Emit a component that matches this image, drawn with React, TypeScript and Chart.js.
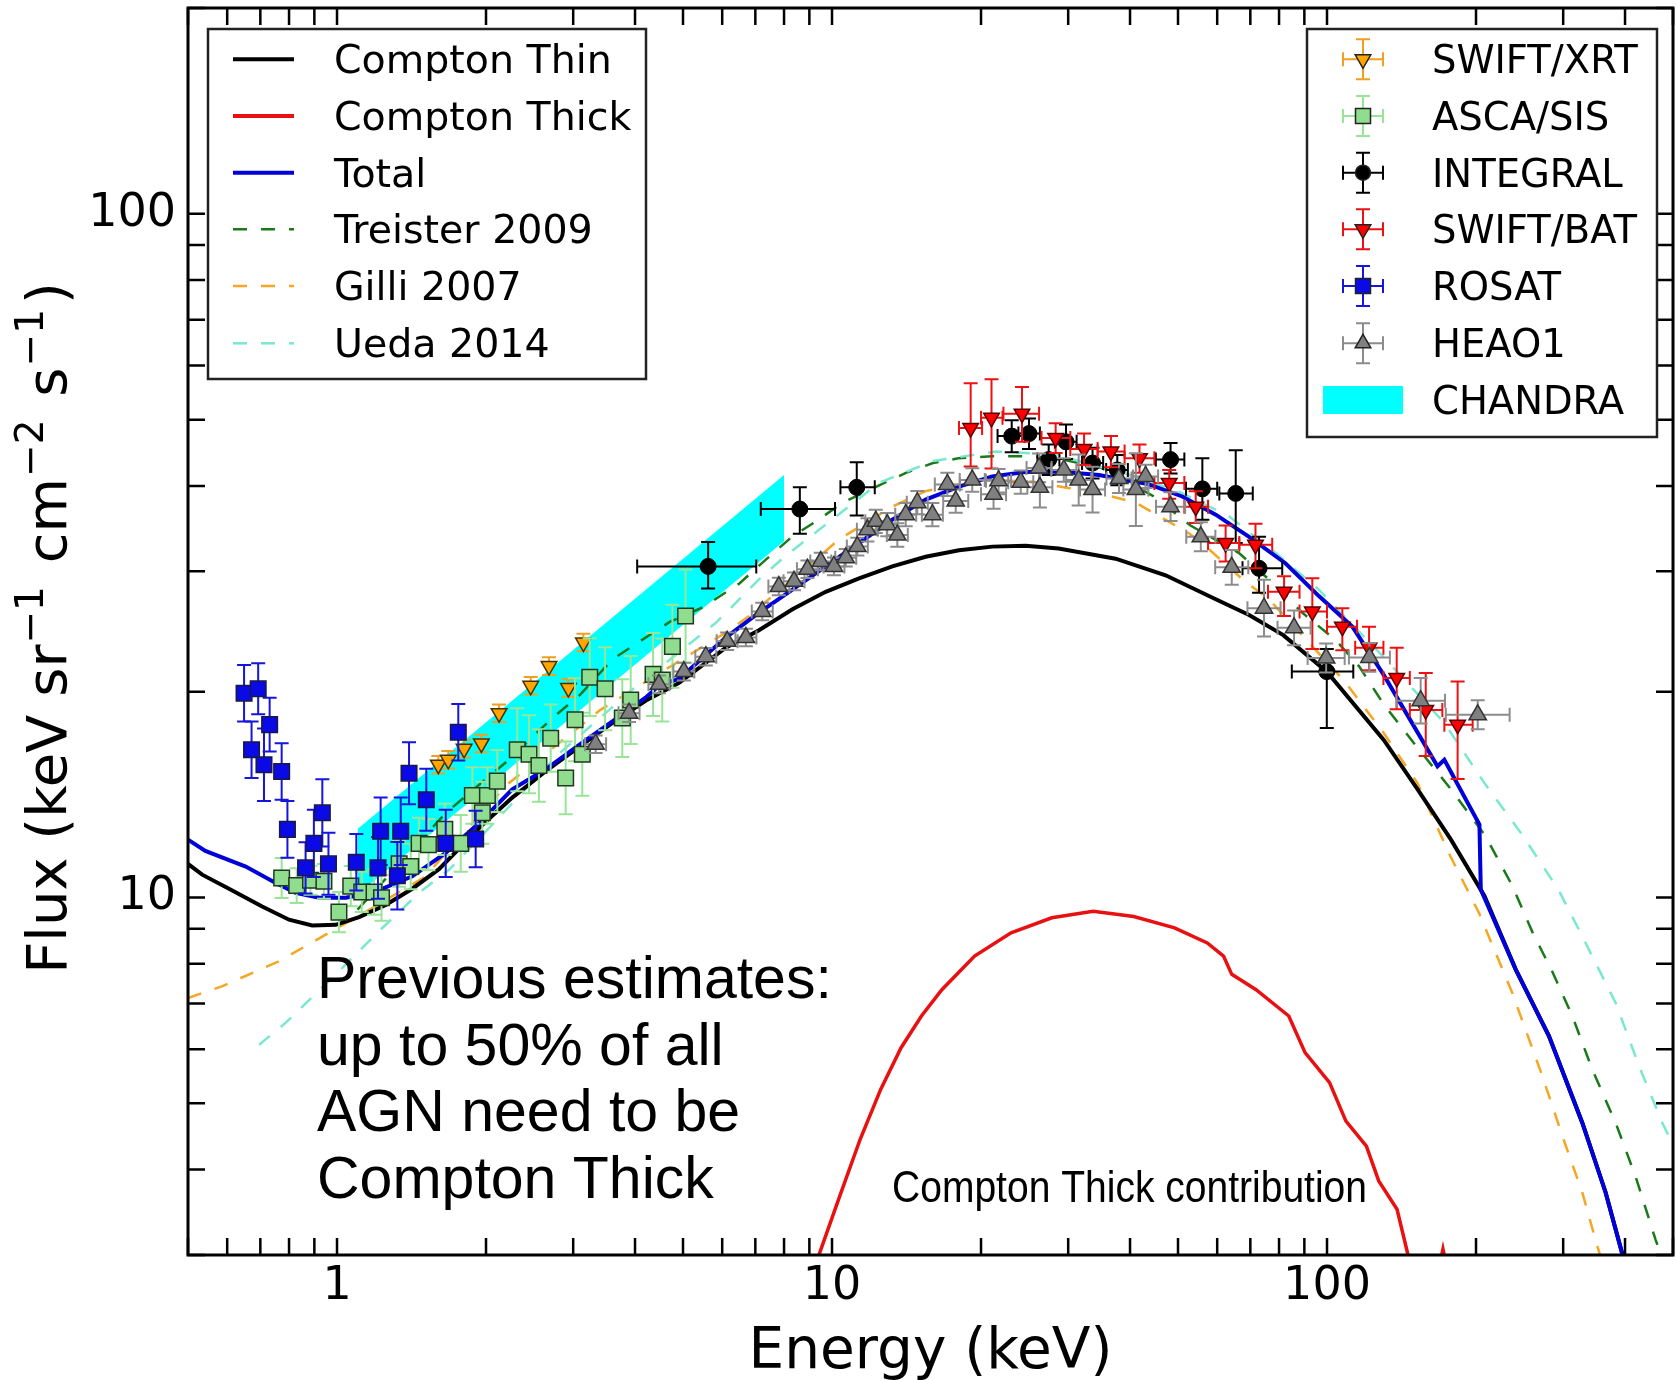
import React, { useEffect, useRef } from 'react';
import { Chart, registerables } from 'chart.js';
Chart.register(...registerables);

const W = 1676;
const H = 1380;

// ---------------- Model curves (Energy keV, Flux) ----------------
const thinE = [0.5, 0.534, 0.605, 0.706, 0.80, 0.891, 0.994, 1.108, 1.254, 1.419, 1.607, 1.95, 2.26, 2.64, 3.08, 3.60, 4.20, 4.91, 5.22, 6.10, 7.12, 8.32, 9.71, 11.34, 13.24, 15.46, 18.05, 21.08, 24.6, 28.7, 37.4, 47.2, 59.6, 69.6, 81.6, 99.9, 130.2, 152.3, 178.0, 208.0, 240.5, 280.8, 328.0, 365.6, 398.0, 430.0];
const thinF = [11.2, 10.8, 10.3, 9.7, 9.28, 9.1, 9.12, 9.36, 9.75, 10.3, 11.0, 12.7, 14.0, 15.3, 16.6, 18.0, 19.4, 20.6, 21.3, 23.2, 24.6, 26.4, 28.0, 29.3, 30.5, 31.5, 32.2, 32.6, 32.7, 32.4, 31.3, 29.6, 27.3, 25.9, 24.2, 21.4, 17.0, 14.4, 12.15, 10.05, 7.85, 6.27, 4.68, 3.70, 2.95, 2.5];

const thickE = [9.0, 9.34, 10.37, 11.40, 12.54, 13.79, 15.16, 16.67, 19.41, 23.0, 27.8, 33.7, 40.7, 49.2, 57.3, 61.8, 64.2, 71.9, 83.7, 90.3, 101.2, 109.2, 120.1, 127.2, 138.5, 146.6, 152.0, 168.0, 171.5, 175.0];
const thickF = [2.7, 2.955, 3.66, 4.43, 5.24, 6.03, 6.71, 7.33, 8.21, 8.88, 9.34, 9.55, 9.38, 9.03, 8.58, 8.21, 7.72, 7.33, 6.71, 5.93, 5.36, 4.71, 4.33, 3.85, 3.50, 2.95, 2.7, 2.85, 3.06, 2.85];

const totalE = [0.5, 0.542, 0.654, 0.752, 0.825, 0.92, 1.041, 1.18, 1.419, 1.658, 1.936, 2.26, 2.64, 3.08, 3.60, 4.20, 4.47, 4.91, 6.10, 7.12, 8.32, 9.71, 11.34, 13.24, 15.46, 18.05, 21.08, 24.6, 28.7, 34.6, 43.7, 51.0, 59.6, 69.6, 82.5, 96.3, 112.5, 130.0, 167.2, 172.6, 203.2, 204.5, 240.5, 280.8, 328.0, 365.6, 398.0, 430.0];
const totalF = [12.15, 11.7, 11.1, 10.5, 10.16, 9.99, 9.99, 10.16, 10.74, 11.62, 12.85, 14.4, 15.4, 16.7, 18.1, 19.6, 20.4, 20.9, 24.0, 26.1, 28.2, 30.5, 33.0, 35.7, 38.2, 39.9, 41.3, 41.9, 42.0, 41.5, 40.2, 38.6, 36.3, 33.7, 30.8, 27.6, 24.9, 21.2, 15.56, 15.9, 12.79, 10.27, 7.85, 6.27, 4.68, 3.70, 2.95, 2.5];

const treisterE = [1.1, 1.66, 2.2, 2.7, 3.1, 3.6, 4.7, 5.5, 6.5, 7.35, 8.3, 9.4, 10.5, 12.3, 14.1, 16.0, 18.0, 21.0, 24.6, 28.0, 35.0, 45.0, 53.0, 66.4, 76.3, 89.1, 104.1, 116.0, 130.0, 150.0, 178.0, 209.0, 236.8, 260.0, 285.0, 313.0, 343.6, 383.0, 420.0, 461.0, 490.0];
const treisterF = [9.6, 13.3, 15.8, 18.2, 19.8, 22.3, 25.3, 26.6, 28.8, 31.2, 33.7, 35.7, 37.8, 39.9, 41.8, 43.2, 43.9, 44.2, 44.2, 44.0, 42.5, 38.5, 35.0, 31.9, 29.2, 26.1, 23.8, 21.8, 19.2, 16.8, 14.4, 12.3, 10.4, 8.9, 7.8, 6.71, 5.60, 4.68, 3.91, 3.16, 2.8];

const gilliE = [0.5, 0.587, 0.764, 0.963, 1.09, 1.5, 2.2, 3.4, 4.83, 6.10, 6.80, 7.58, 9.27, 10.33, 13.24, 15.46, 20.0, 25.4, 35.7, 41.1, 46.5, 52.6, 57.8, 67.5, 76.3, 85.8, 108.0, 130.2, 152.3, 176.4, 202.8, 236.8, 272.3, 298.8, 328.0, 351.6, 370.0];
const gilliF = [7.13, 7.42, 8.07, 8.88, 9.34, 10.7, 14.6, 18.8, 22.0, 24.4, 25.8, 27.6, 31.2, 33.4, 37.3, 39.3, 40.8, 40.6, 38.8, 37.8, 35.9, 34.1, 32.3, 29.2, 27.3, 24.9, 20.8, 17.4, 14.7, 11.6, 9.49, 7.25, 5.48, 4.48, 3.70, 3.09, 2.75];

const uedaE = [0.696, 0.788, 0.994, 1.216, 1.465, 1.684, 2.0, 2.8, 4.0, 5.82, 7.12, 8.06, 10.0, 12.44, 16.0, 21.4, 28.0, 40.0, 50.0, 63.4, 78.8, 96.3, 131.4, 172.6, 208.0, 247.0, 293.4, 333.0, 383.0, 426.9, 475.9, 500.0];
const uedaF = [6.09, 6.56, 7.72, 8.93, 10.16, 10.98, 12.5, 16.2, 20.3, 25.2, 29.2, 31.6, 35.7, 40.4, 43.5, 44.9, 44.5, 41.5, 39.3, 36.1, 31.9, 28.2, 22.3, 18.0, 14.7, 12.4, 10.27, 8.58, 7.01, 5.67, 4.68, 4.35];

// CHANDRA band
const chandraE = [1.1, 8.0];
const chandraTop = [12.6, 41.5];
const chandraBottom = [10.1, 33.2];

// ---------------- Data points ----------------
const rosatE = [0.649, 0.672, 0.693, 0.712, 0.731, 0.773, 0.794, 0.864, 0.898, 0.934, 0.961, 1.094, 1.21, 1.225, 1.324, 1.345, 1.398, 1.515, 1.658, 1.758, 1.906];
const rosatF = [19.9, 16.45, 20.2, 15.64, 17.9, 15.29, 12.58, 11.05, 12.0, 13.3, 11.2, 11.26, 11.05, 12.5, 10.76, 12.5, 15.2, 13.9, 12.0, 17.45, 12.18];
const rosatFerr = [0.10, 0.10, 0.09, 0.13, 0.095, 0.10, 0.10, 0.09, 0.12, 0.12, 0.11, 0.10, 0.11, 0.12, 0.12, 0.12, 0.11, 0.11, 0.12, 0.10, 0.10];
const rosatEerr = [0.03, 0.03, 0.03, 0.03, 0.03, 0.03, 0.03, 0.03, 0.03, 0.03, 0.03, 0.03, 0.03, 0.03, 0.03, 0.03, 0.03, 0.03, 0.03, 0.03, 0.03];

const ascaE = [0.773, 0.829, 0.884, 0.941, 1.009, 1.066, 1.122, 1.188, 1.23, 1.335, 1.409, 1.465, 1.53, 1.651, 1.778, 1.877, 1.966, 2.013, 2.108, 2.313, 2.443, 2.558, 2.702, 2.897, 3.026, 3.13, 3.24, 3.48, 3.77, 3.92, 4.35, 4.54, 4.76, 5.06];
const ascaF = [10.68, 10.41, 10.6, 10.56, 9.52, 10.39, 10.19, 10.19, 9.99, 11.2, 11.1, 12.0, 11.95, 12.58, 12.0, 14.1, 13.3, 14.1, 14.8, 16.45, 16.2, 15.6, 17.1, 14.96, 18.2, 16.2, 21.0, 20.2, 18.3, 19.45, 21.2, 20.8, 23.3, 25.8];
const ascaFerr = [0.07, 0.06, 0.05, 0.06, 0.07, 0.07, 0.07, 0.08, 0.08, 0.08, 0.08, 0.09, 0.09, 0.09, 0.10, 0.10, 0.11, 0.10, 0.11, 0.15, 0.14, 0.13, 0.12, 0.13, 0.15, 0.15, 0.14, 0.15, 0.14, 0.16, 0.15, 0.15, 0.15, 0.17];

const xrtE = [1.602, 1.678, 1.806, 1.957, 2.125, 2.462, 2.681, 2.934, 3.146];
const xrtF = [15.64, 15.9, 16.5, 16.8, 18.6, 20.4, 21.8, 20.25, 23.6];
const xrtFerr = [0.03, 0.03, 0.03, 0.03, 0.03, 0.03, 0.03, 0.03, 0.03];

const integralE = [5.62, 8.61, 11.22, 23.07, 25.0, 27.4, 29.7, 33.6, 37.7, 48.3, 56.0, 65.4, 72.9, 99.9];
const integralF = [30.5, 37.0, 39.8, 47.3, 47.7, 43.7, 46.4, 43.2, 42.2, 43.7, 39.6, 39.0, 30.3, 21.4];
const integralElo = [4.04, 7.18, 10.4, 21.6, 23.8, 26.0, 28.2, 32.0, 35.8, 45.1, 51.9, 60.6, 67.5, 84.9];
const integralEhi = [7.03, 10.14, 12.2, 24.5, 26.3, 28.8, 31.2, 35.3, 39.6, 51.5, 60.0, 70.8, 81.2, 113.0];
const integralFlo = [28.3, 34.05, 36.2, 44.8, 45.3, 41.5, 43.8, 41.0, 40.1, 41.7, 35.7, 33.0, 27.9, 17.7];
const integralFhi = [33.1, 39.8, 43.3, 49.9, 50.2, 46.0, 49.2, 45.5, 44.4, 46.2, 43.9, 45.1, 33.7, 23.1];

const batE = [19.06, 21.0, 24.2, 28.3, 32.3, 36.6, 41.8, 48.0, 54.3, 62.4, 71.7, 81.9, 93.4, 107.4, 121.6, 138.3, 158.3, 183.6];
const batF = [48.6, 50.3, 51.0, 47.0, 45.3, 44.9, 43.9, 40.4, 37.3, 33.0, 32.8, 28.0, 26.2, 24.9, 23.2, 20.95, 18.8, 17.9];
const batElo = [18.05, 20.0, 22.2, 26.5, 30.3, 34.4, 39.0, 44.8, 51.5, 57.5, 66.5, 76.0, 88.0, 100.0, 114.0, 130.0, 147.0, 172.6];
const batEhi = [20.1, 22.1, 26.2, 30.3, 34.4, 39.0, 44.8, 51.5, 57.5, 66.5, 77.5, 88.0, 100.0, 115.0, 130.0, 147.0, 171.0, 196.9];
const batFlo = [42.7, 42.4, 46.4, 44.7, 42.9, 42.6, 41.8, 38.3, 35.3, 31.0, 30.3, 25.8, 23.1, 23.0, 21.5, 18.85, 16.1, 14.9];
const batFhi = [56.5, 57.3, 55.8, 49.4, 47.7, 47.3, 46.0, 42.2, 39.3, 35.0, 35.2, 29.5, 29.3, 26.5, 24.9, 23.2, 21.3, 20.7];

const heaoE = [3.33, 3.89, 4.47, 5.02, 5.56, 6.14, 6.70, 7.23, 7.81, 8.38, 8.92, 9.49, 10.09, 10.66, 11.25, 11.79, 12.26, 12.93, 13.55, 14.09, 14.87, 15.95, 17.1, 17.78, 19.2, 21.2, 21.7, 24.06, 26.2, 26.3, 29.4, 31.5, 33.6, 38.0, 41.1, 43.0, 48.3, 55.6, 64.2, 74.6, 85.8, 99.6, 121.8, 154.6, 201.6];
const heaoF = [16.76, 18.6, 20.5, 21.4, 22.5, 23.7, 24.0, 26.2, 28.5, 29.0, 30.2, 31.0, 30.5, 31.4, 32.6, 34.5, 35.5, 35.1, 33.9, 36.3, 37.8, 36.3, 40.2, 38.0, 40.8, 38.9, 40.7, 40.5, 42.5, 39.8, 42.2, 40.8, 39.5, 41.0, 39.5, 41.3, 37.3, 33.7, 30.4, 26.5, 24.8, 22.4, 22.45, 19.4, 18.5];
const heaoEerr = [0.05, 0.05, 0.05, 0.05, 0.05, 0.05, 0.05, 0.05, 0.05, 0.05, 0.05, 0.05, 0.05, 0.05, 0.05, 0.05, 0.05, 0.05, 0.05, 0.05, 0.05, 0.05, 0.06, 0.06, 0.06, 0.06, 0.06, 0.06, 0.06, 0.06, 0.06, 0.06, 0.06, 0.06, 0.06, 0.06, 0.07, 0.07, 0.08, 0.08, 0.08, 0.09, 0.10, 0.12, 0.16];
const heaoFerr = [0.03, 0.03, 0.03, 0.03, 0.03, 0.03, 0.03, 0.03, 0.03, 0.03, 0.03, 0.03, 0.03, 0.03, 0.03, 0.04, 0.04, 0.04, 0.04, 0.04, 0.04, 0.04, 0.04, 0.04, 0.04, 0.05, 0.04, 0.04, 0.05, 0.07, 0.04, 0.09, 0.08, 0.05, 0.13, 0.04, 0.05, 0.05, 0.06, 0.10, 0.06, 0.05, 0.05, 0.08, 0.05];

// ---------------- Axes ----------------
const xTickVals = [0.5, 0.6, 0.7, 0.8, 0.9, 1, 2, 3, 4, 5, 6, 7, 8, 9, 10, 20, 30, 40, 50, 60, 70, 80, 90, 100, 200, 300, 400, 500];
const yTickVals = [3, 4, 5, 6, 7, 8, 9, 10, 20, 30, 40, 50, 60, 70, 80, 90, 100, 200];
const xLabelVals = [1, 10, 100];
const yLabelVals = [10, 100];

const annotationLines = ['Previous estimates:', 'up to 50% of all', 'AGN need to be', 'Compton Thick'];
const contributionLabel = 'Compton Thick contribution';

const lineLegend = [
  { label: 'Compton Thin', color: '#000000', width: 4, dash: [] as number[] },
  { label: 'Compton Thick', color: '#e81010', width: 4, dash: [] as number[] },
  { label: 'Total', color: '#0000d8', width: 4, dash: [] as number[] },
  { label: 'Treister 2009', color: '#1a7a1a', width: 2.5, dash: [14, 14] },
  { label: 'Gilli 2007', color: '#f5a623', width: 2.5, dash: [14, 14] },
  { label: 'Ueda 2014', color: '#7ae8cf', width: 2.5, dash: [14, 14] },
];

const dataLegend = [
  { label: 'SWIFT/XRT', kind: 'down', fill: '#ffa500', err: '#f0a020', size: 9 },
  { label: 'ASCA/SIS', kind: 'square', fill: '#90dd90', err: '#98e598', size: 15 },
  { label: 'INTEGRAL', kind: 'circle', fill: '#000000', err: '#000000', size: 15 },
  { label: 'SWIFT/BAT', kind: 'down', fill: '#ff0000', err: '#ee1111', size: 9 },
  { label: 'ROSAT', kind: 'square', fill: '#0a0ae6', err: '#1515dd', size: 15 },
  { label: 'HEAO1', kind: 'up', fill: '#808080', err: '#8c8c8c', size: 9 },
];

// ---------------- helpers ----------------
const pts = (E: number[], F: number[]) => E.map((e, i) => ({ x: e, y: F[i] }));
const lo = (v: number[], f: number[]) => v.map((a, i) => a / (1 + f[i]));
const hi = (v: number[], f: number[]) => v.map((a, i) => a * (1 + f[i]));

function drawMarker(ctx: CanvasRenderingContext2D, kind: string, cx: number, cy: number, size: number, fill: string, edge: string, lw: number) {
  ctx.beginPath();
  if (kind === 'square') {
    ctx.rect(cx - size / 2, cy - size / 2, size, size);
  } else if (kind === 'circle') {
    ctx.arc(cx, cy, size / 2, 0, Math.PI * 2);
  } else {
    const base = kind === 'up' ? 0 : Math.PI;
    for (let k = 0; k < 3; k++) {
      const ang = base + (k * 2 * Math.PI) / 3;
      const px = cx + Math.sin(ang) * size;
      const py = cy - Math.cos(ang) * size;
      if (k === 0) ctx.moveTo(px, py);
      else ctx.lineTo(px, py);
    }
    ctx.closePath();
  }
  ctx.fillStyle = fill;
  ctx.fill();
  ctx.lineWidth = lw;
  ctx.strokeStyle = edge;
  ctx.stroke();
}

const errorBarPlugin = {
  id: 'errorBars',
  beforeDatasetDraw(chart: any, args: any) {
    const ds: any = chart.data.datasets[args.index];
    const eb = ds.errorBars;
    if (!eb) return;
    const { ctx, chartArea: a } = chart;
    const xs = chart.scales.x;
    const ys = chart.scales.y;
    ctx.save();
    ctx.beginPath();
    ctx.rect(a.left, a.top, a.right - a.left, a.bottom - a.top);
    ctx.clip();
    ctx.strokeStyle = eb.color;
    ctx.lineWidth = eb.width || 2;
    const cap = eb.cap || 7;
    ds.data.forEach((p: any, i: number) => {
      const px = xs.getPixelForValue(p.x);
      const py = ys.getPixelForValue(p.y);
      ctx.beginPath();
      if (eb.ylo) {
        const y1 = ys.getPixelForValue(eb.ylo[i]);
        const y2 = ys.getPixelForValue(eb.yhi[i]);
        ctx.moveTo(px, y1); ctx.lineTo(px, y2);
        ctx.moveTo(px - cap, y1); ctx.lineTo(px + cap, y1);
        ctx.moveTo(px - cap, y2); ctx.lineTo(px + cap, y2);
      }
      if (eb.xlo) {
        const x1 = xs.getPixelForValue(eb.xlo[i]);
        const x2 = xs.getPixelForValue(eb.xhi[i]);
        ctx.moveTo(x1, py); ctx.lineTo(x2, py);
        ctx.moveTo(x1, py - cap); ctx.lineTo(x1, py + cap);
        ctx.moveTo(x2, py - cap); ctx.lineTo(x2, py + cap);
      }
      ctx.stroke();
    });
    ctx.restore();
  },
};

const framePlugin = {
  id: 'frameTicks',
  afterDatasetsDraw(chart: any) {
    const { ctx, chartArea: a } = chart;
    const xs = chart.scales.x;
    const ys = chart.scales.y;
    const L = 17;
    ctx.save();
    ctx.strokeStyle = '#000';
    ctx.lineWidth = 2.5;
    ctx.beginPath();
    xTickVals.forEach((v) => {
      const px = xs.getPixelForValue(v);
      ctx.moveTo(px, a.bottom); ctx.lineTo(px, a.bottom - L);
      ctx.moveTo(px, a.top); ctx.lineTo(px, a.top + L);
    });
    yTickVals.forEach((v) => {
      const py = ys.getPixelForValue(v);
      ctx.moveTo(a.left, py); ctx.lineTo(a.left + L, py);
      ctx.moveTo(a.right, py); ctx.lineTo(a.right - L, py);
    });
    ctx.stroke();
    ctx.lineWidth = 3;
    ctx.strokeRect(a.left, a.top, a.right - a.left, a.bottom - a.top);
    ctx.restore();
  },
};

const decorPlugin = {
  id: 'decor',
  afterDraw(chart: any) {
    const { ctx, chartArea: a } = chart;
    ctx.save();
    ctx.fillStyle = '#000';
    ctx.textBaseline = 'alphabetic';

    // annotation text
    ctx.font = '59px "Liberation Sans", Arial, sans-serif';
    ctx.textAlign = 'left';
    const baselines = [998, 1064.5, 1131, 1197.5];
    annotationLines.forEach((t, i) => ctx.fillText(t, 317, baselines[i]));

    ctx.font = '44px "Liberation Sans", Arial, sans-serif';
    ctx.fillText(contributionLabel, 892, 1202, 475);

    // x axis title
    ctx.font = '56.5px "DejaVu Sans"';
    ctx.textAlign = 'center';
    ctx.fillText('Energy (keV)', (a.left + a.right) / 2, 1368);

    // y axis title with superscripts
    const mainFont = '56px "DejaVu Sans"';
    const supFont = '39px "DejaVu Sans"';
    const parts: [string, boolean][] = [['Flux (keV sr', false], ['\u22121', true], [' cm', false], ['\u22122', true], [' s', false], ['\u22121', true], [')', false]];
    let total = 0;
    const widths = parts.map(([t, s]) => {
      ctx.font = s ? supFont : mainFont;
      const w = ctx.measureText(t).width + (s ? 6 : 0);
      total += w;
      return w;
    });
    ctx.save();
    ctx.translate(66, 628);
    ctx.rotate(-Math.PI / 2);
    ctx.textAlign = 'left';
    let x = -total / 2;
    parts.forEach(([t, s], i) => {
      ctx.font = s ? supFont : mainFont;
      ctx.fillText(t, x + (s ? 1 : 0), s ? -23 : 0);
      x += widths[i];
    });
    ctx.restore();

    // left legend (lines)
    const rows = [59.3, 116, 172.7, 229.3, 286, 343.3, 400];
    ctx.fillStyle = '#fff';
    ctx.fillRect(208, 29, 438, 350);
    ctx.strokeStyle = '#222';
    ctx.lineWidth = 2.5;
    ctx.strokeRect(208, 29, 438, 350);
    ctx.font = '39.5px "DejaVu Sans"';
    ctx.textAlign = 'left';
    lineLegend.forEach((e, i) => {
      const y = rows[i];
      ctx.beginPath();
      ctx.strokeStyle = e.color;
      ctx.lineWidth = e.width;
      ctx.setLineDash(e.dash);
      ctx.moveTo(233, y);
      ctx.lineTo(294, y);
      ctx.stroke();
      ctx.setLineDash([]);
      ctx.fillStyle = '#000';
      ctx.fillText(e.label, 334, y + 14);
    });

    // right legend (data)
    ctx.font = '38.5px "DejaVu Sans"';
    ctx.fillStyle = '#fff';
    ctx.fillRect(1307, 29, 350, 408);
    ctx.strokeStyle = '#222';
    ctx.lineWidth = 2.5;
    ctx.strokeRect(1307, 29, 350, 408);
    dataLegend.forEach((e, i) => {
      const y = rows[i];
      const cx = 1363;
      ctx.strokeStyle = e.err;
      ctx.lineWidth = 2;
      ctx.beginPath();
      ctx.moveTo(cx, y - 20); ctx.lineTo(cx, y + 20);
      ctx.moveTo(cx - 7, y - 20); ctx.lineTo(cx + 7, y - 20);
      ctx.moveTo(cx - 7, y + 20); ctx.lineTo(cx + 7, y + 20);
      ctx.moveTo(cx - 20, y); ctx.lineTo(cx + 20, y);
      ctx.moveTo(cx - 20, y - 7); ctx.lineTo(cx - 20, y + 7);
      ctx.moveTo(cx + 20, y - 7); ctx.lineTo(cx + 20, y + 7);
      ctx.stroke();
      drawMarker(ctx, e.kind, cx, y, e.size, e.fill, '#222', 1.5);
      ctx.fillStyle = '#000';
      ctx.fillText(e.label, 1432, y + 14);
    });
    ctx.fillStyle = '#00ffff';
    ctx.fillRect(1323, 386, 80, 28);
    ctx.fillStyle = '#000';
    ctx.fillText('CHANDRA', 1432, rows[6] + 14);

    ctx.restore();
  },
};

function lineDs(label: string, E: number[], F: number[], color: string, width: number, dash: number[], order: number) {
  return {
    type: 'line' as const,
    label,
    data: pts(E, F),
    borderColor: color,
    borderWidth: width,
    borderDash: dash,
    pointRadius: 0,
    fill: false,
    tension: 0,
    order,
  };
}

export default function App() {
  const ref = useRef<HTMLCanvasElement>(null);
  useEffect(() => {
    if (!ref.current) return;
    const datasets: any[] = [
      // data (top)
      {
        type: 'scatter', label: 'HEAO1', data: pts(heaoE, heaoF), pointStyle: 'triangle', pointRadius: 10,
        backgroundColor: '#808080', borderColor: '#333', borderWidth: 1.5, order: 1,
        errorBars: { color: '#8c8c8c', width: 2, xlo: lo(heaoE, heaoEerr), xhi: hi(heaoE, heaoEerr), ylo: lo(heaoF, heaoFerr), yhi: hi(heaoF, heaoFerr) },
      },
      {
        type: 'scatter', label: 'ROSAT', data: pts(rosatE, rosatF), pointStyle: 'rect', pointRadius: 11,
        backgroundColor: '#0a0ae6', borderColor: '#1a1a40', borderWidth: 1.5, order: 2,
        errorBars: { color: '#1515dd', width: 2, xlo: lo(rosatE, rosatEerr), xhi: hi(rosatE, rosatEerr), ylo: lo(rosatF, rosatFerr), yhi: hi(rosatF, rosatFerr) },
      },
      {
        type: 'scatter', label: 'SWIFT/BAT', data: pts(batE, batF), pointStyle: 'triangle', pointRotation: 180, pointRadius: 9,
        backgroundColor: '#ff0000', borderColor: '#5a0000', borderWidth: 1.5, order: 3,
        errorBars: { color: '#ee1111', width: 2, xlo: batElo, xhi: batEhi, ylo: batFlo, yhi: batFhi },
      },
      {
        type: 'scatter', label: 'INTEGRAL', data: pts(integralE, integralF), pointStyle: 'circle', pointRadius: 8,
        backgroundColor: '#000', borderColor: '#000', borderWidth: 1, order: 4,
        errorBars: { color: '#000', width: 2, xlo: integralElo, xhi: integralEhi, ylo: integralFlo, yhi: integralFhi },
      },
      {
        type: 'scatter', label: 'ASCA/SIS', data: pts(ascaE, ascaF), pointStyle: 'rect', pointRadius: 11,
        backgroundColor: '#90dd90', borderColor: '#1e3a1e', borderWidth: 1.5, order: 5,
        errorBars: { color: '#98e598', width: 2, ylo: lo(ascaF, ascaFerr), yhi: hi(ascaF, ascaFerr) },
      },
      {
        type: 'scatter', label: 'SWIFT/XRT', data: pts(xrtE, xrtF), pointStyle: 'triangle', pointRotation: 180, pointRadius: 9,
        backgroundColor: '#ffa500', borderColor: '#4a3000', borderWidth: 1.5, order: 6,
        errorBars: { color: '#f0a020', width: 2, ylo: lo(xrtF, xrtFerr), yhi: hi(xrtF, xrtFerr) },
      },
      // model lines
      lineDs('Total', totalE, totalF, '#0000d8', 4, [], 10),
      lineDs('Compton Thick', thickE, thickF, '#e81010', 3.5, [], 11),
      lineDs('Compton Thin', thinE, thinF, '#000000', 4, [], 12),
      lineDs('Ueda 2014', uedaE, uedaF, '#7ae8cf', 2.5, [14, 14], 20),
      lineDs('Gilli 2007', gilliE, gilliF, '#f5a623', 2.5, [14, 14], 21),
      lineDs('Treister 2009', treisterE, treisterF, '#1a7a1a', 2.5, [14, 14], 22),
      // CHANDRA band
      {
        type: 'line', label: 'CHANDRA', data: pts(chandraE, chandraTop), borderWidth: 0, pointRadius: 0,
        backgroundColor: '#00ffff', fill: '+1', order: 30,
      },
      {
        type: 'line', label: 'CHANDRA_low', data: pts(chandraE, chandraBottom), borderWidth: 0, pointRadius: 0,
        fill: false, order: 31,
      },
    ];

    const chart = new Chart(ref.current, {
      type: 'scatter',
      data: { datasets },
      plugins: [errorBarPlugin, framePlugin, decorPlugin],
      options: {
        responsive: false,
        animation: false,
        devicePixelRatio: 1,
        events: [],
        layout: { autoPadding: false, padding: { left: 0, right: 3, top: 8, bottom: 0 } },
        plugins: { legend: { display: false }, tooltip: { enabled: false } },
        scales: {
          x: {
            type: 'logarithmic',
            position: 'bottom',
            min: 0.5,
            max: 500,
            grid: { display: false, drawTicks: false },
            border: { display: false },
            afterBuildTicks: (s: any) => { s.ticks = xTickVals.map((v) => ({ value: v })); },
            afterFit: (s: any) => {
              s.height = 125;
              s.paddingLeft = 0; s.paddingRight = 0; s.paddingTop = 0; s.paddingBottom = 0;
            },
            ticks: {
              autoSkip: false, maxRotation: 0, minRotation: 0, padding: 4, color: '#000',
              font: { family: 'DejaVu Sans', size: 46 },
              callback: (v: any) => (xLabelVals.includes(Number(v)) ? String(v) : ''),
            },
          },
          y: {
            type: 'logarithmic',
            position: 'left',
            min: 3,
            max: 200,
            grid: { display: false, drawTicks: false },
            border: { display: false },
            afterBuildTicks: (s: any) => { s.ticks = yTickVals.map((v) => ({ value: v })); },
            afterFit: (s: any) => {
              s.width = 188;
              s.paddingLeft = 0; s.paddingRight = 0; s.paddingTop = 0; s.paddingBottom = 0;
            },
            ticks: {
              autoSkip: false, padding: 12, color: '#000',
              font: { family: 'DejaVu Sans', size: 46 },
              callback: (v: any) => (yLabelVals.includes(Number(v)) ? String(v) : ''),
            },
          },
        },
      } as any,
    });
    return () => chart.destroy();
  }, []);

  return (
    <div style={{ position: 'absolute', left: 0, top: 0, width: W, height: H, background: '#fff' }}>
      <canvas ref={ref} width={W} height={H} style={{ display: 'block', width: W, height: H }} />
    </div>
  );
}
